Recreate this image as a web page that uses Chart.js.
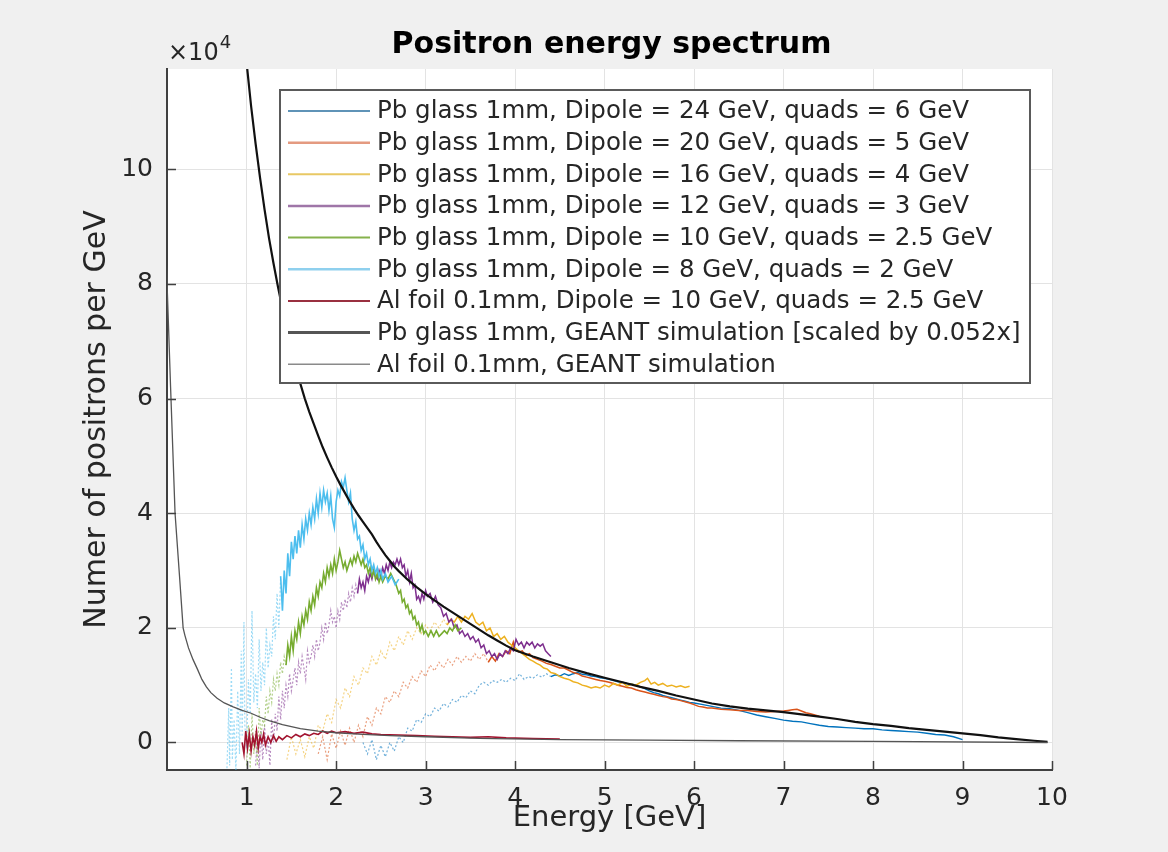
<!DOCTYPE html>
<html><head><meta charset="utf-8">
<script src="https://cdn.jsdelivr.net/npm/chart.js@4.4.1/dist/chart.umd.min.js"></script>
<style>html,body{margin:0;padding:0;background:#f0f0f0;}#wrap{width:1168px;height:852px;}</style>
</head><body><div id="wrap"><canvas id="c" width="1168" height="852"></canvas></div>
<script>
// ---------- DATA (energy in GeV, counts in units of 10^4 per GeV) ----------
const xTicks = [1, 2, 3, 4, 5, 6, 7, 8, 9, 10];
const yTicks = [0, 2, 4, 6, 8, 10];
const seriesLabels = [
  'Pb glass 1mm, Dipole = 24 GeV, quads = 6 GeV',
  'Pb glass 1mm, Dipole = 20 GeV, quads = 5 GeV',
  'Pb glass 1mm, Dipole = 16 GeV, quads = 4 GeV',
  'Pb glass 1mm, Dipole = 12 GeV, quads = 3 GeV',
  'Pb glass 1mm, Dipole = 10 GeV, quads = 2.5 GeV',
  'Pb glass 1mm, Dipole = 8 GeV, quads = 2 GeV',
  'Al foil 0.1mm, Dipole = 10 GeV, quads = 2.5 GeV',
  'Pb glass 1mm, GEANT simulation [scaled by 0.052x]',
  'Al foil 0.1mm, GEANT simulation'
];
const dip24 = [[2.30,0.0],[2.35,-0.2],[2.40,0.05],[2.45,-0.3],[2.50,-0.05],[2.55,-0.25],[2.60,0.0],[2.65,-0.15],[2.70,0.1],[2.75,0.0],[2.80,0.25],[2.85,0.2],[2.90,0.4],[2.95,0.35],[3.00,0.5],[3.05,0.45],[3.10,0.6],[3.15,0.55],[3.20,0.68],[3.25,0.62],[3.30,0.75],[3.35,0.7],[3.40,0.82],[3.45,0.78],[3.50,0.9],[3.55,0.85],[3.60,1.0],[3.65,1.05],[3.70,1.0],[3.75,1.08],[3.80,1.05],[3.85,1.1],[3.90,1.05],[3.95,1.12],[4.00,1.08],[4.05,1.2],[4.10,1.1],[4.15,1.15],[4.20,1.12],[4.25,1.18],[4.30,1.14],[4.35,1.2],[4.40,1.15],[4.45,1.18],[4.50,1.16],[4.55,1.2],[4.60,1.17],[4.65,1.2],[4.70,1.22],[4.75,1.19],[4.80,1.18],[4.85,1.16],[4.90,1.15],[4.95,1.13],[5.00,1.12],[5.05,1.1],[5.10,1.08],[5.15,1.06],[5.20,1.05],[5.25,1.03],[5.30,1.02],[5.35,1.0],[5.40,0.97],[5.45,0.94],[5.50,0.9],[5.55,0.87],[5.60,0.85],[5.65,0.82],[5.70,0.8],[5.75,0.78],[5.80,0.76],[5.85,0.74],[5.90,0.72],[5.95,0.7],[6.00,0.69],[6.10,0.66],[6.20,0.63],[6.30,0.6],[6.40,0.59],[6.50,0.56],[6.60,0.52],[6.70,0.48],[6.80,0.45],[6.90,0.42],[7.00,0.39],[7.10,0.37],[7.20,0.36],[7.30,0.33],[7.40,0.3],[7.50,0.28],[7.60,0.27],[7.70,0.26],[7.80,0.25],[7.90,0.24],[8.00,0.24],[8.10,0.22],[8.20,0.21],[8.30,0.2],[8.40,0.19],[8.50,0.18],[8.60,0.16],[8.70,0.14],[8.80,0.13],[8.90,0.1],[9.00,0.05]];
const dip20 = [[1.80,-0.2],[1.85,0.1],[1.90,-0.3],[1.95,0.15],[2.00,-0.1],[2.05,0.2],[2.10,-0.05],[2.15,0.25],[2.20,0.0],[2.25,0.3],[2.30,0.1],[2.35,0.45],[2.40,0.3],[2.45,0.6],[2.50,0.5],[2.55,0.8],[2.60,0.7],[2.65,0.9],[2.70,0.8],[2.75,1.05],[2.80,0.95],[2.85,1.15],[2.90,1.05],[2.95,1.25],[3.00,1.15],[3.05,1.35],[3.10,1.25],[3.15,1.4],[3.20,1.3],[3.25,1.45],[3.30,1.35],[3.35,1.5],[3.40,1.4],[3.45,1.5],[3.50,1.42],[3.55,1.55],[3.60,1.45],[3.65,1.55],[3.70,1.4],[3.74,1.5],[3.78,1.42],[3.82,1.55],[3.86,1.5],[3.90,1.6],[3.94,1.55],[3.98,1.75],[4.00,1.62],[4.04,1.58],[4.08,1.6],[4.12,1.52],[4.16,1.55],[4.20,1.48],[4.25,1.45],[4.30,1.42],[4.35,1.38],[4.40,1.36],[4.45,1.33],[4.50,1.3],[4.55,1.3],[4.60,1.26],[4.65,1.22],[4.70,1.2],[4.75,1.16],[4.80,1.14],[4.85,1.12],[4.90,1.1],[4.95,1.08],[5.00,1.07],[5.05,1.05],[5.10,1.03],[5.15,1.0],[5.20,0.98],[5.25,0.96],[5.30,0.95],[5.35,0.92],[5.40,0.9],[5.45,0.88],[5.50,0.86],[5.55,0.84],[5.60,0.82],[5.65,0.8],[5.70,0.79],[5.75,0.76],[5.80,0.75],[5.85,0.73],[5.90,0.71],[5.95,0.69],[6.00,0.66],[6.05,0.63],[6.10,0.62],[6.15,0.6],[6.20,0.6],[6.30,0.58],[6.40,0.57],[6.50,0.56],[6.60,0.56],[6.70,0.54],[6.80,0.53],[6.90,0.54],[7.00,0.55],[7.05,0.56],[7.10,0.57],[7.15,0.58],[7.20,0.55],[7.25,0.52],[7.30,0.5],[7.35,0.48],[7.40,0.46]];
const dip16 = [[1.45,-0.3],[1.50,0.1],[1.55,-0.2],[1.60,0.05],[1.65,-0.25],[1.70,0.1],[1.75,-0.1],[1.80,0.3],[1.85,0.2],[1.90,0.5],[1.95,0.35],[2.00,0.75],[2.05,0.6],[2.10,0.95],[2.15,0.8],[2.20,1.15],[2.25,1.0],[2.30,1.3],[2.35,1.2],[2.40,1.5],[2.45,1.35],[2.50,1.6],[2.55,1.45],[2.60,1.75],[2.65,1.6],[2.70,1.85],[2.75,1.7],[2.80,1.95],[2.85,1.8],[2.90,2.0],[2.95,1.9],[3.00,2.05],[3.05,1.95],[3.10,2.1],[3.15,2.0],[3.20,2.15],[3.24,2.05],[3.28,2.15],[3.32,2.1],[3.36,2.2],[3.40,2.1],[3.44,2.2],[3.48,2.15],[3.52,2.25],[3.56,2.1],[3.60,2.05],[3.64,2.1],[3.68,1.95],[3.72,2.0],[3.76,1.85],[3.80,1.9],[3.84,1.8],[3.88,1.85],[3.92,1.75],[3.96,1.7],[4.00,1.65],[4.04,1.6],[4.08,1.55],[4.12,1.5],[4.16,1.45],[4.20,1.42],[4.24,1.38],[4.28,1.35],[4.32,1.3],[4.36,1.28],[4.40,1.22],[4.45,1.2],[4.50,1.15],[4.55,1.12],[4.60,1.1],[4.65,1.06],[4.70,1.04],[4.75,1.0],[4.80,0.98],[4.85,0.95],[4.90,0.97],[4.95,0.95],[5.00,1.0],[5.05,0.97],[5.10,1.03],[5.15,1.0],[5.20,1.05],[5.25,0.98],[5.30,1.02],[5.35,1.0],[5.40,1.05],[5.45,1.08],[5.48,1.12],[5.52,1.02],[5.56,1.05],[5.60,1.0],[5.65,1.03],[5.70,0.98],[5.75,1.0],[5.80,0.97],[5.85,0.99],[5.90,0.96],[5.95,0.98]];
const dip12 = [[1.10,-0.4],[1.12,0.1],[1.14,-0.45],[1.16,0.2],[1.18,-0.3],[1.20,0.3],[1.22,-0.2],[1.24,0.1],[1.26,-0.4],[1.28,0.4],[1.30,0.0],[1.32,0.5],[1.34,0.2],[1.36,0.8],[1.38,0.4],[1.40,0.9],[1.42,0.6],[1.44,1.0],[1.46,0.8],[1.48,1.2],[1.50,0.9],[1.52,1.1],[1.54,1.3],[1.56,1.0],[1.58,1.4],[1.60,1.2],[1.62,1.5],[1.64,1.3],[1.66,1.1],[1.68,1.6],[1.70,1.4],[1.72,1.5],[1.74,1.7],[1.76,1.5],[1.78,1.8],[1.80,1.6],[1.82,1.75],[1.84,2.0],[1.86,1.8],[1.88,2.1],[1.90,1.9],[1.92,2.05],[1.94,2.3],[1.96,2.1],[1.98,2.2],[2.00,2.0],[2.02,2.3],[2.04,2.15],[2.06,2.45],[2.08,2.3],[2.10,2.5],[2.12,2.35],[2.14,2.6],[2.16,2.45],[2.18,2.7],[2.20,2.55],[2.22,2.75],[2.24,2.6],[2.26,2.85],[2.28,2.7],[2.30,2.8],[2.32,2.65],[2.34,2.9],[2.36,2.8],[2.38,2.95],[2.40,2.85],[2.42,3.0],[2.44,2.9],[2.46,2.85],[2.48,3.0],[2.50,2.9],[2.52,3.05],[2.54,2.95],[2.56,3.1],[2.58,3.0],[2.60,3.15],[2.62,3.05],[2.64,3.15],[2.66,3.1],[2.68,3.2],[2.70,3.1],[2.72,3.2],[2.74,3.05],[2.76,3.1],[2.78,2.9],[2.80,3.0],[2.82,2.8],[2.84,2.95],[2.86,2.7],[2.88,2.75],[2.90,2.5],[2.92,2.55],[2.94,2.45],[2.96,2.6],[2.98,2.5],[3.00,2.65],[3.02,2.55],[3.05,2.6],[3.08,2.45],[3.11,2.55],[3.14,2.4],[3.17,2.35],[3.20,2.2],[3.23,2.25],[3.26,2.1],[3.29,2.15],[3.32,2.0],[3.35,2.05],[3.38,1.9],[3.41,1.95],[3.44,1.85],[3.47,1.9],[3.50,1.8],[3.53,1.85],[3.56,1.75],[3.59,1.8],[3.62,1.65],[3.65,1.7],[3.68,1.55],[3.71,1.6],[3.74,1.5],[3.77,1.55],[3.80,1.45],[3.83,1.55],[3.86,1.5],[3.89,1.6],[3.92,1.55],[3.95,1.65],[3.98,1.6],[4.01,1.8],[4.04,1.7],[4.07,1.75],[4.10,1.65],[4.13,1.75],[4.16,1.7],[4.19,1.75],[4.22,1.65],[4.25,1.72],[4.28,1.68],[4.31,1.72],[4.34,1.6],[4.37,1.55],[4.40,1.5]];
const dip10 = [[1.00,-0.4],[1.02,0.3],[1.04,-0.45],[1.06,0.5],[1.08,-0.2],[1.10,0.2],[1.12,-0.4],[1.14,0.6],[1.16,0.1],[1.18,0.4],[1.20,0.3],[1.22,0.8],[1.24,0.5],[1.26,0.9],[1.28,0.7],[1.30,1.1],[1.32,0.9],[1.34,1.2],[1.36,1.0],[1.38,1.4],[1.40,1.2],[1.42,1.5],[1.44,1.35],[1.46,1.7],[1.48,1.5],[1.50,1.85],[1.52,1.6],[1.54,1.95],[1.56,1.8],[1.58,2.1],[1.60,1.9],[1.62,2.2],[1.64,2.05],[1.66,2.3],[1.68,2.15],[1.70,2.45],[1.72,2.3],[1.74,2.55],[1.76,2.4],[1.78,2.7],[1.80,2.55],[1.82,2.8],[1.84,2.7],[1.86,2.95],[1.88,2.8],[1.90,3.05],[1.92,2.9],[1.94,3.1],[1.96,2.95],[1.98,3.2],[2.00,3.0],[2.02,3.15],[2.04,3.35],[2.06,3.2],[2.08,3.05],[2.10,3.15],[2.12,3.0],[2.14,3.1],[2.16,3.2],[2.18,3.1],[2.20,3.25],[2.22,3.15],[2.24,3.3],[2.26,3.2],[2.28,3.1],[2.30,3.2],[2.32,3.05],[2.34,3.1],[2.36,2.95],[2.38,3.05],[2.40,2.9],[2.42,3.0],[2.44,2.85],[2.46,2.95],[2.48,2.8],[2.50,2.9],[2.52,2.8],[2.55,2.9],[2.58,2.85],[2.61,2.95],[2.64,2.85],[2.67,2.75],[2.70,2.6],[2.72,2.65],[2.74,2.45],[2.76,2.5],[2.78,2.35],[2.80,2.4],[2.82,2.25],[2.84,2.3],[2.86,2.15],[2.88,2.2],[2.90,2.05],[2.92,2.1],[2.94,1.95],[2.96,2.05],[2.98,1.9],[3.00,1.95],[3.03,1.85],[3.06,1.95],[3.09,1.85],[3.12,1.95],[3.15,1.85],[3.18,1.9],[3.21,1.95],[3.24,1.9],[3.27,2.0],[3.30,1.95],[3.33,2.05],[3.36,1.95],[3.40,2.0]];
const dip8 = [[0.78,-0.45],[0.80,0.6],[0.81,-0.4],[0.83,1.3],[0.84,-0.3],[0.86,0.4],[0.88,-0.5],[0.90,0.9],[0.92,-0.2],[0.94,1.6],[0.95,0.1],[0.97,2.1],[0.98,0.3],[1.00,-0.1],[1.02,1.1],[1.04,0.5],[1.06,2.3],[1.08,0.7],[1.10,1.2],[1.12,0.6],[1.14,1.8],[1.16,0.9],[1.18,1.4],[1.20,1.0],[1.22,2.0],[1.24,1.3],[1.26,1.7],[1.28,1.5],[1.30,2.2],[1.32,1.8],[1.34,2.6],[1.36,2.0],[1.38,2.9],[1.40,2.3],[1.42,3.0],[1.44,2.6],[1.46,3.3],[1.48,2.9],[1.50,3.5],[1.52,3.2],[1.54,3.6],[1.56,3.3],[1.58,3.7],[1.60,3.4],[1.62,3.8],[1.64,3.55],[1.66,3.9],[1.68,3.7],[1.70,4.0],[1.72,3.8],[1.74,4.1],[1.76,3.9],[1.78,4.25],[1.80,4.0],[1.82,4.35],[1.84,4.1],[1.86,4.4],[1.88,4.2],[1.90,4.35],[1.92,4.05],[1.94,4.3],[1.96,3.9],[1.98,3.75],[2.00,4.2],[2.02,4.4],[2.04,4.3],[2.06,4.55],[2.08,4.45],[2.10,4.62],[2.12,4.4],[2.14,4.2],[2.16,4.35],[2.18,3.9],[2.20,3.7],[2.22,3.85],[2.24,3.55],[2.26,3.6],[2.28,3.35],[2.30,3.45],[2.32,3.2],[2.34,3.3],[2.36,3.1],[2.38,3.2],[2.40,3.0],[2.42,3.1],[2.44,2.95],[2.46,3.05],[2.48,2.9],[2.50,3.0],[2.52,2.85],[2.55,2.95],[2.58,2.8],[2.62,2.9],[2.66,2.75],[2.70,2.85]];
const alFoil = [[0.95,0.0],[0.97,-0.2],[0.99,0.2],[1.01,-0.1],[1.03,0.15],[1.05,-0.15],[1.07,0.1],[1.09,-0.05],[1.11,0.2],[1.13,-0.1],[1.15,0.1],[1.17,0.0],[1.19,0.15],[1.21,-0.05],[1.24,0.1],[1.27,0.0],[1.30,0.12],[1.33,0.02],[1.36,0.1],[1.40,0.05],[1.45,0.12],[1.50,0.08],[1.55,0.14],[1.60,0.1],[1.65,0.15],[1.70,0.12],[1.75,0.16],[1.80,0.14],[1.85,0.2],[1.90,0.16],[1.95,0.2],[2.00,0.17],[2.10,0.19],[2.20,0.16],[2.30,0.18],[2.40,0.15],[2.50,0.14],[2.70,0.13],[2.90,0.12],[3.10,0.11],[3.30,0.1],[3.50,0.09],[3.70,0.1],[3.90,0.08],[4.20,0.07],[4.50,0.06]];
const pbGeant = [[0.99,12.0],[1.00,11.85],[1.05,11.1],[1.10,10.45],[1.15,9.85],[1.20,9.3],[1.25,8.8],[1.30,8.36],[1.35,7.95],[1.40,7.57],[1.45,7.2],[1.50,6.87],[1.55,6.55],[1.60,6.26],[1.65,6.0],[1.70,5.77],[1.75,5.56],[1.80,5.35],[1.85,5.15],[1.90,4.97],[1.95,4.8],[2.00,4.64],[2.05,4.49],[2.10,4.35],[2.15,4.21],[2.20,4.08],[2.25,3.96],[2.30,3.85],[2.35,3.74],[2.40,3.63],[2.45,3.5],[2.50,3.38],[2.55,3.27],[2.60,3.17],[2.65,3.07],[2.70,2.99],[2.80,2.84],[2.90,2.71],[3.00,2.59],[3.10,2.48],[3.20,2.37],[3.30,2.27],[3.40,2.17],[3.50,2.07],[3.60,1.97],[3.70,1.87],[3.80,1.78],[3.90,1.69],[4.00,1.61],[4.20,1.5],[4.40,1.4],[4.60,1.3],[4.80,1.21],[5.00,1.13],[5.20,1.05],[5.40,0.97],[5.60,0.9],[5.80,0.82],[6.00,0.75],[6.20,0.68],[6.40,0.63],[6.60,0.59],[6.80,0.56],[7.00,0.53],[7.20,0.49],[7.40,0.45],[7.60,0.41],[7.80,0.36],[8.00,0.32],[8.20,0.29],[8.40,0.25],[8.60,0.22],[8.80,0.19],[9.00,0.16],[9.20,0.13],[9.40,0.09],[9.60,0.06],[9.80,0.03],[9.95,0.01]];
const alGeant = [[0.10,8.5],[0.15,6.2],[0.20,4.0],[0.25,2.9],[0.29,2.0],[0.31,1.87],[0.35,1.65],[0.40,1.45],[0.45,1.28],[0.50,1.1],[0.55,0.97],[0.60,0.87],[0.67,0.77],[0.75,0.69],[0.85,0.62],[0.95,0.56],[1.05,0.51],[1.15,0.44],[1.25,0.38],[1.40,0.31],[1.60,0.24],[1.80,0.2],[2.00,0.17],[2.30,0.14],[2.60,0.12],[3.00,0.1],[3.60,0.07],[4.50,0.05],[5.50,0.04],[6.50,0.03],[8.00,0.02],[9.95,0.0]];
const seriesData = [dip24, dip20, dip16, dip12, dip10, dip8, alFoil, pbGeant, alGeant];

// ---------- STYLE ----------
const FONT = 'DejaVu Sans';
const INK = '#262626';
const lineColors = ['#0072BD','#D95319','#EDB120','#7E2F8E','#77AC30','#4DBEEE','#A2142F','#111111','#555555'];
const legendColors = ['#2a6f9f','#e49a80','#e8c864','#9f76a8','#86b24c','#8fd0ee','#9a3040','#555555','#8a8a8a'];
const lineWidths = [1.4,1.5,1.5,1.5,1.6,1.6,1.6,2.2,1.3];
const legendWidths = [1.5,2.5,2,2.5,2,2.5,2,3,1.5];
const faintBelow = [4.42, 3.72, 3.25, 2.25, 1.45, 1.38, null, null, null];

function rgba(hex, a){const n=parseInt(hex.slice(1),16);return `rgba(${n>>16&255},${n>>8&255},${n&255},${a})`;}

const datasets = seriesData.map((arr, i) => {
  const th = faintBelow[i];
  const ds = {
    label: seriesLabels[i],
    data: arr.map(p => ({x: p[0], y: p[1]})),
    borderColor: lineColors[i],
    borderWidth: lineWidths[i],
    pointRadius: 0,
    tension: 0,
    fill: false,
    order: seriesData.length - i
  };
  if (th !== null) {
    ds.segment = {
      borderColor: c => c.p1.parsed.x <= th ? rgba(lineColors[i], 0.55) : undefined,
      borderDash: c => c.p1.parsed.x <= th ? [2, 2] : undefined,
      borderWidth: c => c.p1.parsed.x <= th ? 1.2 : undefined
    };
  }
  return ds;
});

const bgPlugin = {
  id: 'bg',
  beforeDraw(chart) {
    const {ctx, chartArea: a} = chart;
    ctx.save();
    ctx.fillStyle = '#f0f0f0';
    ctx.fillRect(0, 0, chart.width, chart.height);
    ctx.fillStyle = '#ffffff';
    ctx.fillRect(a.left, a.top, a.right - a.left, a.bottom - a.top);
    ctx.restore();
  }
};

const decoPlugin = {
  id: 'deco',
  afterDraw(chart) {
    const {ctx, chartArea: a, scales} = chart;
    ctx.save();
    // inward ticks
    ctx.strokeStyle = '#404040';
    ctx.lineWidth = 1.5;
    ctx.beginPath();
    scales.x.ticks.forEach(t => {
      const px = Math.round(scales.x.getPixelForValue(t.value)) + 0.5;
      ctx.moveTo(px, a.bottom); ctx.lineTo(px, a.bottom - 9);
    });
    scales.y.ticks.forEach(t => {
      const py = Math.round(scales.y.getPixelForValue(t.value)) + 0.5;
      ctx.moveTo(a.left, py); ctx.lineTo(a.left + 9, py);
    });
    ctx.stroke();

    // title
    ctx.fillStyle = '#000';
    ctx.font = `bold 30px "${FONT}"`;
    ctx.textAlign = 'center';
    ctx.textBaseline = 'alphabetic';
    ctx.fillText('Positron energy spectrum', (a.left + a.right) / 2 + 2, 53);

    // exponent label
    ctx.fillStyle = INK;
    ctx.textAlign = 'left';
    ctx.font = `24px "${FONT}"`;
    ctx.fillText('\u00d710', 168, 60);
    const w = ctx.measureText('\u00d710').width;
    ctx.font = `18px "${FONT}"`;
    ctx.fillText('4', 168 + w + 1, 48);

    // legend box
    const L = 280, T = 90, R = 1030, B = 383;
    ctx.fillStyle = '#ffffff';
    ctx.fillRect(L, T, R - L, B - T);
    ctx.strokeStyle = '#5a5a5a';
    ctx.lineWidth = 2;
    ctx.strokeRect(L, T, R - L, B - T);
    ctx.font = `24.5px "${FONT}"`;
    ctx.textBaseline = 'middle';
    chart.data.datasets.forEach((ds, i) => {
      const y = 111 + i * 31.65;
      ctx.strokeStyle = legendColors[i];
      ctx.lineWidth = legendWidths[i];
      ctx.beginPath();
      ctx.moveTo(288, y); ctx.lineTo(370, y);
      ctx.stroke();
      ctx.fillStyle = INK;
      ctx.fillText(ds.label, 377, y + 1);
    });
    ctx.restore();
  }
};

new Chart(document.getElementById('c').getContext('2d'), {
  type: 'line',
  data: {datasets},
  options: {
    responsive: false,
    animation: false,
    events: [],
    layout: {padding: {top: 69, right: 116, left: 0, bottom: 0}},
    plugins: {legend: {display: false}, tooltip: {enabled: false}, title: {display: false}},
    scales: {
      x: {
        type: 'linear', min: 0.11, max: 10,
        afterBuildTicks: s => { s.ticks = xTicks.map(v => ({value: v})); },
        afterFit: s => { s.height = 82; },
        ticks: {padding: 13, color: INK, font: {family: FONT, size: 25}, maxRotation: 0, autoSkip: false, callback: v => String(v)},
        grid: {color: '#e3e3e3', drawTicks: false, lineWidth: 1},
        border: {color: '#404040', width: 2},
        title: {display: true, text: 'Energy [GeV]', color: INK, font: {family: FONT, size: 29}, padding: {top: 0, bottom: 16}}
      },
      y: {
        type: 'linear', min: -0.48, max: 11.75,
        afterBuildTicks: s => { s.ticks = yTicks.map(v => ({value: v})); },
        afterFit: s => { s.width = 167; },
        ticks: {padding: 14, color: INK, font: {family: FONT, size: 25}, autoSkip: false, callback: v => String(v)},
        grid: {color: '#e3e3e3', drawTicks: false, lineWidth: 1},
        border: {color: '#404040', width: 2},
        title: {display: true, text: 'Numer of positrons per GeV', color: INK, font: {family: FONT, size: 30}, padding: {top: 79, bottom: 0}}
      }
    }
  },
  plugins: [bgPlugin, decoPlugin]
});
</script></body></html>
